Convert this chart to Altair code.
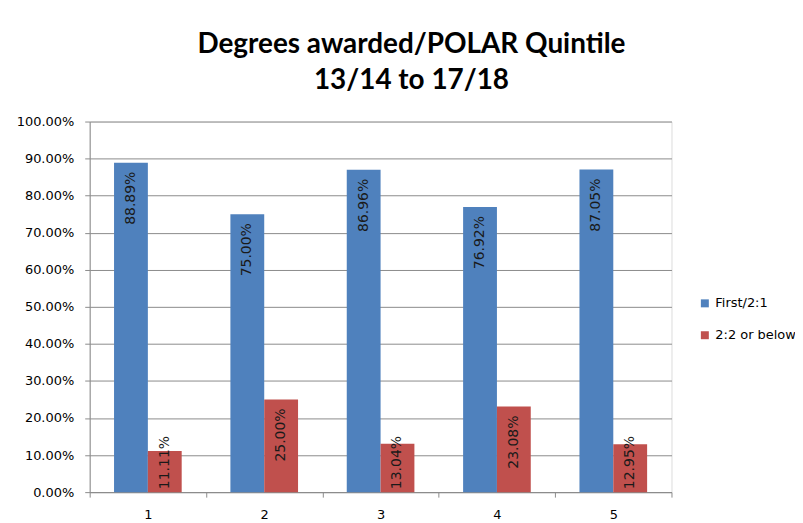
import altair as alt
import pandas as pd

quintiles = ["1", "2", "3", "4", "5"]
series = ["First/2:1", "2:2 or below"]
first_21 = [0.8889, 0.7500, 0.8696, 0.7692, 0.8705]
below_22 = [0.1111, 0.2500, 0.1304, 0.2308, 0.1295]
colors = ["#4F81BD", "#C0504D"]
y_ticks = [0.0, 0.1, 0.2, 0.3, 0.4, 0.5, 0.6, 0.7, 0.8, 0.9, 1.0]

rows = []
for q, a, b in zip(quintiles, first_21, below_22):
    rows.append({"q": q, "series": series[0], "value": a})
    rows.append({"q": q, "series": series[1], "value": b})
df = pd.DataFrame(rows)

GRID = "#8c8c8c"
LABEL_FONT = "DejaVu Sans"

x_enc = alt.X(
    "q:N",
    sort=quintiles,
    scale=alt.Scale(paddingInner=0, paddingOuter=0),
    axis=alt.Axis(
        title=None, labelAngle=0, tickBand="extent", domainColor=GRID,
        tickColor=GRID, tickSize=5, labelPadding=11, labelFont=LABEL_FONT,
        labelFontSize=13, labelColor="#000000", grid=False,
    ),
)
xoff_enc = alt.XOffset(
    "series:N", sort=series, scale=alt.Scale(paddingInner=0, paddingOuter=0.72)
)
y_scale = alt.Scale(domain=[0, 1], nice=False)
y_axis = alt.Axis(
    title=None, values=y_ticks, tickCount=11, format=".2%", grid=True,
    gridColor=GRID, domainColor=GRID, tickColor=GRID, tickSize=5,
    labelPadding=11, labelFont=LABEL_FONT, labelFontSize=13,
    labelColor="#000000", labelOverlap=False,
)

base = alt.Chart(df)

bars = base.mark_bar().encode(
    x=x_enc,
    xOffset=xoff_enc,
    y=alt.Y("value:Q", scale=y_scale, axis=y_axis),
    color=alt.Color(
        "series:N",
        sort=series,
        scale=alt.Scale(domain=series, range=colors),
        legend=alt.Legend(
            title=None, orient="none", legendX=611, legendY=176,
            symbolType="square", symbolSize=64, symbolStrokeWidth=0,
            labelFont=LABEL_FONT, labelFontSize=13, labelColor="#000000",
            rowPadding=18,
        ),
    ),
)

top_labels = base.mark_text(
    angle=270, align="right", baseline="middle", dx=-9,
    font=LABEL_FONT, fontSize=14, color="#1a1a1a",
).encode(
    x=x_enc,
    xOffset=xoff_enc,
    y=alt.Y("value:Q", scale=y_scale, axis=y_axis),
    text=alt.Text("value:Q", format=".2%"),
).transform_filter("datum.value >= 0.2")

bottom_labels = base.mark_text(
    angle=270, align="left", baseline="middle", dx=3,
    font=LABEL_FONT, fontSize=14, color="#1a1a1a",
).encode(
    x=x_enc,
    xOffset=xoff_enc,
    y=alt.Y(datum=0, type="quantitative", scale=y_scale, axis=y_axis),
    text=alt.Text("value:Q", format=".2%"),
).transform_filter("datum.value < 0.2")

chart = (
    alt.layer(bars, top_labels, bottom_labels)
    .properties(
        width=584,
        height=372,
        autosize=alt.AutoSizeParams(type="none"),
        padding={"left": 82, "top": 113, "right": 124, "bottom": 28},
        title=alt.Title(
            ["Degrees awarded/POLAR Quintile", "13/14 to 17/18"],
            font="Lato", fontSize=28, fontWeight="bold", color="#000000",
            anchor="middle", dx=31, offset=21, lineHeight=36,
        ),
    )
    .configure_view(stroke="transparent", strokeWidth=0)
    .configure(background="#ffffff")
)

chart.save("out.html", embed_options={"renderer": "svg", "actions": False})
